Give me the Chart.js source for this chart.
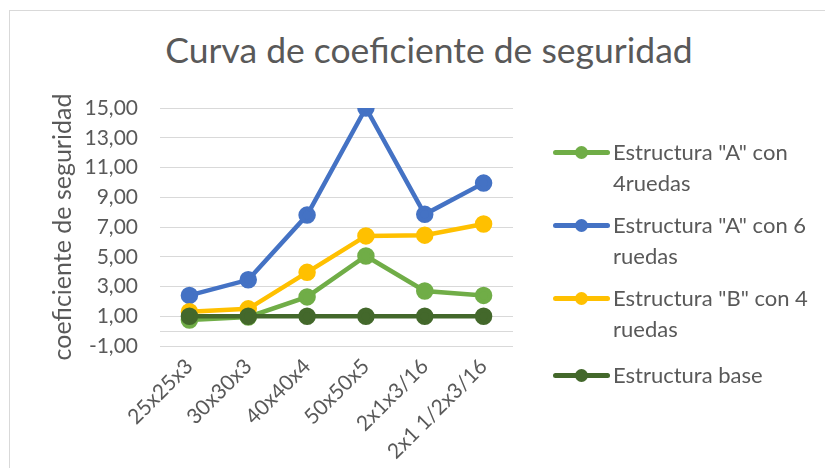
<!DOCTYPE html>
<html>
<head>
<meta charset="utf-8">
<script src="https://cdn.jsdelivr.net/npm/chart.js@4"></script>
<style>
  html, body { margin: 0; padding: 0; background: #fff; }
  #wrap { position: relative; width: 825px; height: 468px; overflow: hidden; font-family: Lato, "Open Sans", sans-serif; color: #595959; }
  #frame { position: absolute; left: 9px; top: 10px; width: 840px; height: 480px; border: 1px solid #d9d9d9; box-sizing: border-box; }
  #title { position: absolute; left: 0; width: 858px; top: 29px; text-align: center; font-size: 35.5px; line-height: 42px; }
  #chart { position: absolute; left: 0; top: 0; }
  #legend { position: absolute; left: 553px; top: 0; }
  .item { position: absolute; left: 0; width: 270px; }
  .sym { position: absolute; left: 0; width: 57px; height: 5px; border-radius: 3px; }
  .dot { position: absolute; left: 22px; top: -4px; width: 13px; height: 13px; border-radius: 50%; }
  .txt { position: absolute; left: 60px; width: 215px; font-size: 22px; line-height: 31px; }
</style>
</head>
<body>
<div id="wrap">
  <div id="frame"></div>
  <div id="title">Curva de coeficiente de seguridad</div>
  <canvas id="chart" width="825" height="468"></canvas>
  <div id="legend"></div>
</div>
<script>
const categories = ["25x25x3", "30x30x3", "40x40x4", "50x50x5", "2x1x3/16", "2x1 1/2x3/16"];
const seriesNames = ['Estructura "A" con 4ruedas', 'Estructura "A" con 6 ruedas', 'Estructura "B" con 4 ruedas', 'Estructura base'];
const estructuraA4 = [0.75, 0.95, 2.3, 5.05, 2.7, 2.4];
const estructuraA6 = [2.4, 3.45, 7.8, 15.0, 7.85, 9.95];
const estructuraB4 = [1.3, 1.5, 3.95, 6.4, 6.45, 7.2];
const estructuraBase = [1, 1, 1, 1, 1, 1];
const seriesColors = ["#70AD47", "#4472C4", "#FFC000", "#43682B"];
const yMin = -1, yMax = 15, yStep = 2;

const seriesData = [estructuraA4, estructuraA6, estructuraB4, estructuraBase];
const drawOrder = [3, 2, 1, 0];

const datasets = seriesData.map((d, i) => ({
  label: seriesNames[i],
  data: d,
  borderColor: seriesColors[i],
  backgroundColor: seriesColors[i],
  pointBackgroundColor: seriesColors[i],
  pointBorderColor: seriesColors[i],
  borderWidth: 4.5,
  pointRadius: 6.5,
  pointHoverRadius: 6.5,
  tension: 0,
  order: drawOrder[i]
}));

const zeroLine = {
  id: 'zeroLine',
  beforeDatasetsDraw(chart) {
    const y = chart.scales.y.getPixelForValue(0);
    const ctx = chart.ctx, a = chart.chartArea;
    ctx.save();
    ctx.strokeStyle = '#d9d9d9';
    ctx.lineWidth = 1;
    ctx.beginPath();
    ctx.moveTo(a.left, Math.round(y) + 0.5);
    ctx.lineTo(a.right, Math.round(y) + 0.5);
    ctx.stroke();
    ctx.restore();
  }
};

Chart.defaults.font.family = 'Lato, "Open Sans", sans-serif';
Chart.defaults.color = '#595959';

new Chart(document.getElementById('chart'), {
  type: 'line',
  data: { labels: categories, datasets },
  options: {
    responsive: false,
    animation: false,
    events: [],
    layout: { padding: { top: 108, right: 312, left: 48, bottom: 0 } },
    plugins: { legend: { display: false }, title: { display: false }, tooltip: { enabled: false } },
    scales: {
      x: {
        offset: true,
        grid: { display: false, drawTicks: false },
        border: { display: false },
        ticks: { minRotation: 45, maxRotation: 45, padding: 8, font: { size: 21 }, color: '#595959', autoSkip: false },
        afterFit(scale) { scale.height = 122; }
      },
      y: {
        min: yMin, max: yMax,
        grid: { color: '#d9d9d9', lineWidth: 1, drawTicks: false },
        border: { display: false },
        ticks: { stepSize: yStep, padding: 22, font: { size: 21 }, color: '#595959',
          callback: v => v.toFixed(2).replace('.', ',') },
        title: { display: true, text: 'coeficiente de seguridad', font: { size: 25 }, color: '#595959', padding: 0 },
        afterFit(scale) { scale.width = 112; }
      }
    }
  },
  plugins: [zeroLine]
});

// HTML legend built from the series
const legendTops = [152, 225, 298, 375];
const legend = document.getElementById('legend');
seriesNames.forEach((name, i) => {
  const item = document.createElement('div');
  item.className = 'item';
  item.style.top = legendTops[i] + 'px';
  const sym = document.createElement('div');
  sym.className = 'sym';
  sym.style.top = '-2px';
  sym.style.background = seriesColors[i];
  const dot = document.createElement('div');
  dot.className = 'dot';
  dot.style.background = seriesColors[i];
  sym.appendChild(dot);
  const txt = document.createElement('div');
  txt.className = 'txt';
  txt.style.top = '-16px';
  txt.textContent = name;
  item.appendChild(sym);
  item.appendChild(txt);
  legend.appendChild(item);
});
</script>
</body>
</html>
